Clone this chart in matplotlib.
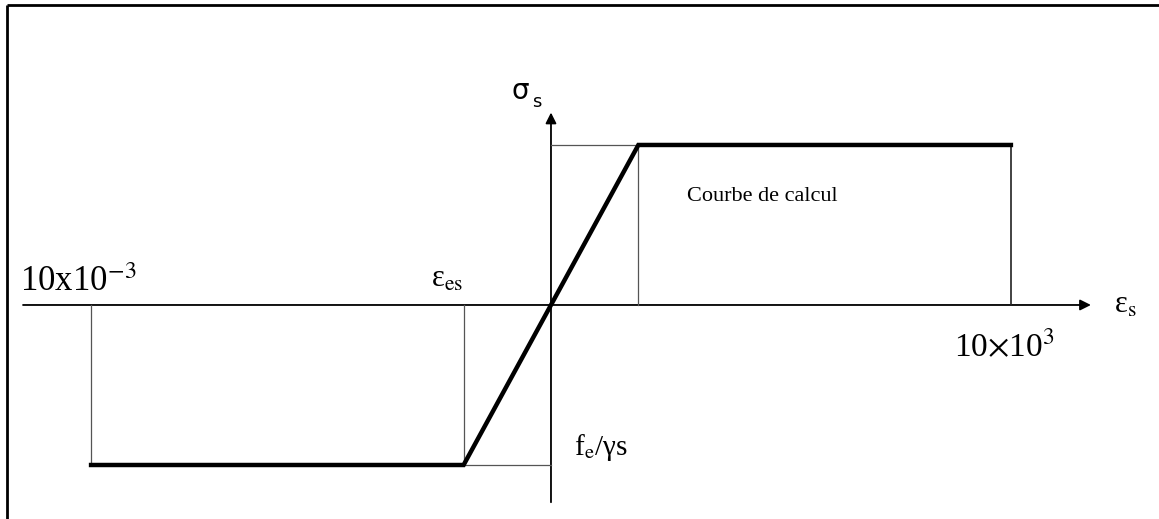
"""Diagramme contrainte-deformation de calcul des aciers (ELU)"""
import numpy as np
import matplotlib.pyplot as plt
from matplotlib.patches import FancyArrowPatch

plt.rcParams['mathtext.fontset'] = 'stix'
plt.rcParams['font.family'] = ['Liberation Serif', 'DejaVu Serif']

# strain in units of 1e-3, stress normalised by fe/gamma_s
eps_es = 1.9
eps_max = 10.0
fsu = 1.0

# design curve: plateau - elastic branch - plateau
curve_eps = [-eps_max, -eps_es, eps_es, eps_max]
curve_sig = [-fsu, -fsu, fsu, fsu]

fig = plt.figure(figsize=(11.59, 5.19), dpi=100)
ax = fig.add_axes([0, 0, 1, 1])
ax.set_xlim(-11.98, 13.22)
ax.set_ylim(-1.3375, 1.906)
ax.axis('off')

# frame lines (left and top only)
ax.plot([-11.83, -11.83], [-1.4, 1.875], color='black', lw=2.0, solid_capstyle='butt')
ax.plot([-11.83, 13.3], [1.875, 1.875], color='black', lw=2.0, solid_capstyle='butt')

# axes with arrow heads
ax.add_patch(FancyArrowPatch((-11.54, 0), (11.80, 0), arrowstyle='-|>',
                             mutation_scale=16, lw=1.3, color='black'))
ax.add_patch(FancyArrowPatch((0, -1.25), (0, 1.22), arrowstyle='-|>',
                             mutation_scale=16, lw=1.3, color='black'))

# thin construction lines
thin = dict(color='#555555', lw=0.9)
ax.plot([curve_eps[0], curve_eps[0]], [0, curve_sig[0]], **thin)
ax.plot([curve_eps[1], curve_eps[1]], [0, curve_sig[1]], **thin)
ax.plot([curve_eps[1], 0], [curve_sig[1], curve_sig[1]], **thin)
ax.plot([curve_eps[2], curve_eps[2]], [0, curve_sig[2]], **thin)
ax.plot([0, curve_eps[2]], [curve_sig[2], curve_sig[2]], **thin)
ax.plot([curve_eps[3], curve_eps[3]], [0, curve_sig[3]], color='#222222', lw=1.2)

# design curve
ax.plot(curve_eps, curve_sig, color='black', lw=3.2, solid_joinstyle='miter')

# labels
ax.text(-11.55, 0.04, r'10x10$^{-3}$', fontsize=25, ha='left', va='bottom')
ax.text(-2.25, 0.07, r'ε$_\mathrm{es}$', fontsize=22, ha='center', va='bottom')
ax.text(12.25, 0.0, r'ε$_\mathrm{s}$', fontsize=22, ha='left', va='center')
ax.text(9.85, -0.16, r'10$\times$10$^{3}$', fontsize=24, ha='center', va='top')
ax.text(0.5, -fsu + 0.11, r'f$_\mathrm{e}$/γs', fontsize=21, ha='left', va='center')
ax.text(-0.67, 1.34, 'σ', fontsize=20, ha='center', va='center', family='DejaVu Sans')
ax.text(-0.32, 1.27, 's', fontsize=13, ha='center', va='center', family='DejaVu Sans')
ax.text(2.95, 0.68, 'Courbe de calcul', fontsize=16, ha='left', va='center')

plt.savefig('out.png', dpi=100)
